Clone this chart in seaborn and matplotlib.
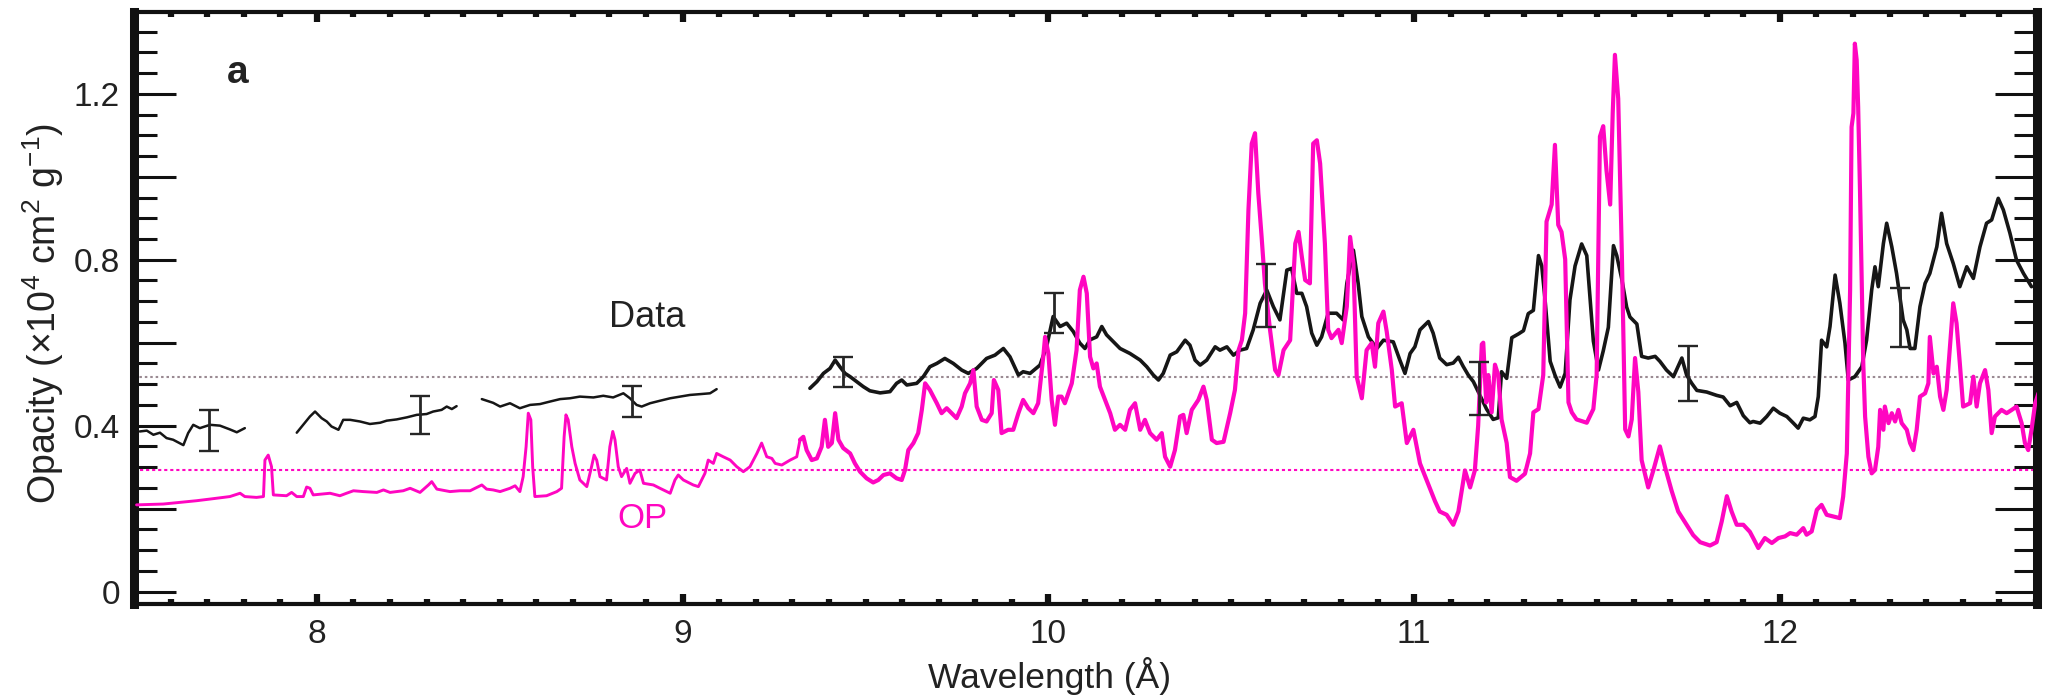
import matplotlib
matplotlib.use("Agg")
import matplotlib.pyplot as plt
import seaborn as sns
import pandas as pd
from matplotlib.ticker import MultipleLocator, FuncFormatter

# ---------------- data ----------------
# Measured opacity ("Data"), drawn in four separate pieces
DATA_SEG1_WL = [7.516, 7.535, 7.553, 7.571, 7.589, 7.607, 7.635, 7.648, 7.662, 7.680,
                7.708, 7.735, 7.762, 7.781, 7.803]
DATA_SEG1_OP = [0.386, 0.388, 0.378, 0.383, 0.370, 0.366, 0.353, 0.382, 0.402, 0.394,
                0.402, 0.400, 0.391, 0.384, 0.394]

DATA_SEG2_WL = [7.945, 7.981, 7.995, 8.013, 8.027, 8.040, 8.059, 8.072, 8.091, 8.118,
                8.145, 8.173, 8.191, 8.218, 8.246, 8.273, 8.300, 8.318, 8.341, 8.355,
                8.369, 8.382]
DATA_SEG2_OP = [0.383, 0.422, 0.434, 0.418, 0.410, 0.398, 0.390, 0.414, 0.414, 0.410,
                0.404, 0.407, 0.412, 0.415, 0.420, 0.426, 0.428, 0.434, 0.438, 0.446,
                0.440, 0.447]

DATA_SEG3_WL = [8.451, 8.482, 8.501, 8.528, 8.555, 8.583, 8.610, 8.637, 8.665, 8.692,
                8.719, 8.756, 8.783, 8.810, 8.838, 8.856, 8.874, 8.888, 8.911, 8.938,
                8.966, 8.993, 9.020, 9.048, 9.075, 9.093]
DATA_SEG3_OP = [0.464, 0.455, 0.446, 0.454, 0.442, 0.450, 0.452, 0.458, 0.464, 0.466,
                0.470, 0.468, 0.472, 0.468, 0.478, 0.466, 0.450, 0.446, 0.454, 0.460,
                0.466, 0.470, 0.474, 0.476, 0.478, 0.488]

DATA_SEG4_WL = [9.348, 9.367, 9.385, 9.403, 9.417, 9.430, 9.444, 9.458, 9.476, 9.494,
                9.512, 9.540, 9.567, 9.585, 9.599, 9.613, 9.640, 9.658, 9.676, 9.695,
                9.717, 9.740, 9.763, 9.781, 9.804, 9.831, 9.854, 9.877, 9.895, 9.918,
                9.931, 9.950, 9.977, 9.995, 10.013, 10.032, 10.050, 10.068, 10.086, 10.100,
                10.114, 10.132, 10.146, 10.159, 10.178, 10.196,
                10.223, 10.251, 10.269, 10.287, 10.301, 10.314, 10.333, 10.351, 10.374, 10.387,
                10.401, 10.415, 10.433, 10.456, 10.469, 10.488, 10.506, 10.524, 10.542, 10.560,
                10.579, 10.597, 10.615, 10.633, 10.652, 10.665, 10.679, 10.693, 10.706, 10.720,
                10.734, 10.747, 10.765, 10.788, 10.806, 10.816, 10.834, 10.847, 10.857, 10.875,
                10.898, 10.916, 10.943, 10.961, 10.975, 10.989, 11.002, 11.016, 11.039, 11.052,
                11.070, 11.089, 11.107, 11.121, 11.134, 11.148, 11.162, 11.180, 11.198, 11.216,
                11.230, 11.239, 11.253, 11.267, 11.285, 11.299, 11.312, 11.326, 11.340, 11.349,
                11.358, 11.372, 11.385, 11.399, 11.413, 11.426, 11.440, 11.458, 11.472, 11.490,
                11.504, 11.517, 11.531, 11.545, 11.554, 11.568, 11.581, 11.590, 11.609, 11.622,
                11.640, 11.659, 11.672, 11.690, 11.709, 11.732, 11.745, 11.759, 11.773, 11.800,
                11.827, 11.845, 11.864, 11.882, 11.900, 11.918,
                11.927, 11.946, 11.964, 11.982, 12.000, 12.019, 12.037, 12.050, 12.064, 12.082,
                12.096, 12.105, 12.114, 12.128, 12.137, 12.151, 12.164, 12.178, 12.187, 12.205,
                12.224, 12.237, 12.251, 12.260, 12.269, 12.283, 12.292, 12.306, 12.319, 12.337,
                12.347, 12.356, 12.369, 12.383, 12.397, 12.410, 12.429, 12.442, 12.456, 12.474,
                12.492, 12.511, 12.529, 12.547, 12.565, 12.579, 12.597, 12.611, 12.629, 12.647,
                12.666, 12.688]
DATA_SEG4_OP = [0.490, 0.506, 0.526, 0.538, 0.558, 0.542, 0.526, 0.518, 0.506, 0.494,
                0.484, 0.479, 0.482, 0.502, 0.510, 0.498, 0.502, 0.518, 0.542, 0.550,
                0.562, 0.550, 0.534, 0.526, 0.538, 0.562, 0.570, 0.586, 0.566, 0.522,
                0.530, 0.526, 0.546, 0.590, 0.663, 0.639, 0.647, 0.627, 0.599, 0.586,
                0.607, 0.614, 0.639, 0.619, 0.602, 0.586,
                0.574, 0.558, 0.542, 0.522, 0.510, 0.526, 0.570, 0.578, 0.606, 0.594,
                0.558, 0.546, 0.558, 0.590, 0.582, 0.590, 0.570, 0.582, 0.586, 0.631,
                0.695, 0.727, 0.687, 0.655, 0.775, 0.779, 0.719, 0.719, 0.687, 0.623,
                0.594, 0.614, 0.671, 0.671, 0.655, 0.743, 0.823, 0.743, 0.663, 0.614,
                0.586, 0.606, 0.602, 0.558, 0.526, 0.574, 0.590, 0.631, 0.651, 0.623,
                0.563, 0.547, 0.551, 0.565, 0.543, 0.522, 0.506, 0.473, 0.440, 0.415,
                0.419, 0.530, 0.514, 0.612, 0.621, 0.629, 0.670, 0.678, 0.810, 0.785,
                0.703, 0.555, 0.522, 0.493, 0.526, 0.703, 0.785, 0.838, 0.810, 0.604,
                0.534, 0.580, 0.637, 0.834, 0.810, 0.752, 0.686, 0.662, 0.645, 0.567,
                0.563, 0.567, 0.555, 0.534, 0.518, 0.563, 0.522, 0.502, 0.485, 0.481,
                0.473, 0.469, 0.448, 0.456, 0.424, 0.407,
                0.410, 0.406, 0.422, 0.442, 0.430, 0.422, 0.406, 0.394, 0.418, 0.414,
                0.422, 0.470, 0.606, 0.590, 0.639, 0.763, 0.695, 0.599, 0.510, 0.518,
                0.542, 0.606, 0.727, 0.783, 0.735, 0.839, 0.888, 0.831, 0.767, 0.655,
                0.631, 0.586, 0.586, 0.687, 0.743, 0.767, 0.831, 0.912, 0.839, 0.791,
                0.735, 0.783, 0.755, 0.831, 0.888, 0.896, 0.948, 0.920, 0.864, 0.799,
                0.767, 0.735]

# Error bars on the measured data
ERR_WL = [7.705, 8.282, 8.861, 9.438, 10.015, 10.594, 11.178, 11.750, 12.328]
ERR_OP = [0.389, 0.425, 0.458, 0.529, 0.672, 0.714, 0.489, 0.526, 0.661]
ERR_SIZE = [0.049, 0.046, 0.038, 0.036, 0.048, 0.075, 0.064, 0.066, 0.071]

# OP model opacity
OP_WL = [7.507, 7.580, 7.671, 7.708, 7.744, 7.762, 7.790, 7.803, 7.835, 7.854,
         7.858, 7.867, 7.876, 7.881, 7.917, 7.931, 7.945, 7.963, 7.972, 7.981,
         7.990, 8.036, 8.063, 8.081, 8.100, 8.127, 8.164, 8.182, 8.200, 8.236,
         8.255, 8.282, 8.305, 8.314, 8.328, 8.364, 8.391, 8.419,
         8.428, 8.451, 8.464, 8.482, 8.501, 8.528, 8.542, 8.555, 8.564, 8.572,
         8.578, 8.585, 8.590, 8.596, 8.628, 8.656, 8.669, 8.676, 8.681, 8.687,
         8.697, 8.706, 8.719, 8.738, 8.751, 8.758, 8.765, 8.774, 8.792, 8.801,
         8.809, 8.815, 8.824, 8.833, 8.847, 8.856, 8.870, 8.883, 8.893, 8.920,
         8.938, 8.966, 8.979, 8.988, 9.002, 9.029, 9.043, 9.061, 9.070, 9.084,
         9.093, 9.111, 9.130, 9.148, 9.166, 9.184, 9.203, 9.216, 9.230, 9.244,
         9.253, 9.271, 9.294, 9.312, 9.321,
         9.330, 9.339, 9.353, 9.367, 9.380, 9.389, 9.398, 9.408, 9.417, 9.426,
         9.439, 9.458, 9.471, 9.485, 9.503, 9.521, 9.535, 9.549, 9.567, 9.585,
         9.599, 9.608, 9.617, 9.631, 9.644, 9.654, 9.663, 9.676, 9.695, 9.708,
         9.722, 9.740, 9.749, 9.763, 9.772, 9.786, 9.795, 9.804, 9.818, 9.831,
         9.845, 9.851, 9.863, 9.872, 9.890, 9.904, 9.918, 9.931, 9.945, 9.959,
         9.972, 9.986, 9.991, 10.000, 10.009, 10.018, 10.027, 10.036, 10.045, 10.064,
         10.077, 10.086, 10.096, 10.105, 10.114, 10.123, 10.132, 10.141, 10.155, 10.169,
         10.182, 10.196, 10.210, 10.223,
         10.237, 10.251, 10.264, 10.278, 10.296, 10.310, 10.319, 10.333, 10.346, 10.360,
         10.369, 10.378, 10.392, 10.410, 10.424, 10.433, 10.447, 10.460, 10.479, 10.497,
         10.510, 10.520, 10.529, 10.538, 10.547, 10.556, 10.565, 10.574, 10.583, 10.592,
         10.606, 10.620, 10.629, 10.643, 10.661, 10.675, 10.684, 10.693, 10.702, 10.715,
         10.724, 10.734, 10.743, 10.756, 10.765, 10.774, 10.793, 10.802, 10.816, 10.825,
         10.834, 10.843, 10.857, 10.870, 10.884, 10.893, 10.902, 10.916, 10.925, 10.939,
         10.948, 10.966, 10.980, 10.998, 11.016, 11.034,
         11.057, 11.070, 11.089, 11.107, 11.121, 11.130, 11.139, 11.153, 11.166, 11.175,
         11.185, 11.189, 11.197, 11.203, 11.212, 11.221, 11.230, 11.239, 11.253, 11.262,
         11.280, 11.303, 11.317, 11.326, 11.340, 11.353, 11.362, 11.376, 11.385, 11.394,
         11.403, 11.413, 11.422, 11.431, 11.444, 11.472, 11.490, 11.499, 11.508, 11.517,
         11.526, 11.536, 11.543, 11.549, 11.558, 11.568, 11.577, 11.586, 11.595, 11.604,
         11.613, 11.622, 11.640, 11.654, 11.672, 11.686, 11.704, 11.722, 11.745, 11.763,
         11.782, 11.809, 11.827, 11.841, 11.855, 11.868, 11.882, 11.900, 11.918,
         11.927, 11.941, 11.959, 11.978, 11.996, 12.014, 12.028, 12.046, 12.064, 12.073,
         12.087, 12.101, 12.114, 12.128, 12.146, 12.164, 12.173, 12.183, 12.192, 12.196,
         12.201, 12.205, 12.210, 12.214, 12.219, 12.224, 12.228, 12.233, 12.242, 12.251,
         12.260, 12.269, 12.274, 12.283, 12.287, 12.297, 12.306, 12.315, 12.324, 12.333,
         12.347, 12.356, 12.365, 12.374, 12.383, 12.397, 12.406, 12.410, 12.420, 12.429,
         12.438, 12.447, 12.456, 12.465, 12.474, 12.483, 12.492, 12.501, 12.520, 12.529,
         12.538, 12.547, 12.561, 12.570, 12.579, 12.588, 12.597, 12.606, 12.620, 12.634,
         12.647, 12.661, 12.670, 12.679, 12.688, 12.698, 12.707]
OP_OP = [0.209, 0.211, 0.219, 0.223, 0.227, 0.229, 0.237, 0.229, 0.227, 0.229,
         0.317, 0.329, 0.301, 0.233, 0.231, 0.239, 0.229, 0.229, 0.252, 0.249,
         0.233, 0.237, 0.231, 0.237, 0.243, 0.241, 0.239, 0.245, 0.239, 0.243,
         0.249, 0.239, 0.257, 0.265, 0.247, 0.241, 0.243, 0.243,
         0.247, 0.257, 0.247, 0.245, 0.241, 0.249, 0.255, 0.241, 0.277, 0.349,
         0.430, 0.414, 0.301, 0.229, 0.231, 0.241, 0.249, 0.373, 0.426, 0.414,
         0.349, 0.309, 0.269, 0.253, 0.301, 0.329, 0.317, 0.277, 0.269, 0.349,
         0.386, 0.366, 0.301, 0.277, 0.297, 0.261, 0.285, 0.293, 0.261, 0.257,
         0.249, 0.237, 0.269, 0.281, 0.269, 0.257, 0.253, 0.285, 0.317, 0.309,
         0.333, 0.325, 0.317, 0.301, 0.289, 0.301, 0.333, 0.358, 0.325, 0.321,
         0.309, 0.305, 0.317, 0.325, 0.366,
         0.373, 0.341, 0.317, 0.321, 0.349, 0.414, 0.349, 0.358, 0.430, 0.366,
         0.346, 0.333, 0.309, 0.289, 0.273, 0.263, 0.269, 0.281, 0.285, 0.273,
         0.269, 0.293, 0.341, 0.358, 0.382, 0.438, 0.502, 0.486, 0.454, 0.430,
         0.442, 0.426, 0.418, 0.446, 0.478, 0.502, 0.534, 0.446, 0.414, 0.410,
         0.430, 0.510, 0.486, 0.382, 0.390, 0.390, 0.430, 0.462, 0.442, 0.430,
         0.454, 0.566, 0.614, 0.574, 0.462, 0.402, 0.470, 0.470, 0.454, 0.502,
         0.582, 0.727, 0.759, 0.719, 0.566, 0.538, 0.550, 0.494, 0.462, 0.430,
         0.390, 0.402, 0.390, 0.438,
         0.454, 0.390, 0.414, 0.382, 0.366, 0.382, 0.325, 0.301, 0.341, 0.422,
         0.426, 0.382, 0.438, 0.462, 0.494, 0.462, 0.366, 0.358, 0.361, 0.430,
         0.486, 0.582, 0.606, 0.671, 0.920, 1.080, 1.105, 0.960, 0.855, 0.743,
         0.631, 0.534, 0.522, 0.582, 0.606, 0.839, 0.867, 0.807, 0.751, 0.743,
         1.080, 1.088, 1.032, 0.839, 0.631, 0.611, 0.631, 0.599, 0.687, 0.855,
         0.791, 0.518, 0.466, 0.582, 0.599, 0.542, 0.647, 0.675, 0.627, 0.534,
         0.446, 0.454, 0.358, 0.390, 0.309, 0.269,
         0.218, 0.193, 0.185, 0.161, 0.193, 0.243, 0.292, 0.251, 0.292, 0.399,
         0.596, 0.600, 0.456, 0.522, 0.432, 0.547, 0.522, 0.415, 0.358, 0.276,
         0.267, 0.284, 0.333, 0.432, 0.440, 0.522, 0.892, 0.933, 1.077, 0.884,
         0.867, 0.801, 0.456, 0.432, 0.415, 0.407, 0.440, 0.522, 1.097, 1.122,
         1.015, 0.933, 1.155, 1.294, 1.188, 0.810, 0.391, 0.374, 0.415, 0.563,
         0.481, 0.317, 0.251, 0.292, 0.350, 0.300, 0.243, 0.193, 0.161, 0.136,
         0.119, 0.111, 0.119, 0.169, 0.230, 0.193, 0.161, 0.161, 0.144,
         0.129, 0.105, 0.129, 0.117, 0.129, 0.133, 0.141, 0.137, 0.153, 0.137,
         0.145, 0.197, 0.209, 0.185, 0.181, 0.177, 0.229, 0.333, 0.727, 1.120,
         1.153, 1.321, 1.281, 1.169, 0.968, 0.735, 0.550, 0.422, 0.325, 0.285,
         0.293, 0.349, 0.438, 0.390, 0.446, 0.406, 0.430, 0.410, 0.438, 0.406,
         0.390, 0.358, 0.341, 0.390, 0.470, 0.478, 0.502, 0.614, 0.526, 0.542,
         0.470, 0.438, 0.486, 0.590, 0.695, 0.647, 0.550, 0.446, 0.454, 0.518,
         0.446, 0.502, 0.534, 0.486, 0.382, 0.422, 0.430, 0.438, 0.430, 0.438,
         0.446, 0.406, 0.358, 0.341, 0.390, 0.454, 0.478]

# Mean levels (dotted reference lines)
DATA_MEAN = 0.518
OP_MEAN = 0.292

# Text
X_LABEL = "Wavelength (Å)"
Y_LABEL = "Opacity (×10$^4$ cm$^2$ g$^{-1}$)"
PANEL = "a"
LABEL_DATA = "Data"
LABEL_OP = "OP"

# ---------------- styling ----------------
sns.set_theme(style="ticks")
plt.rcParams['font.family'] = ['Liberation Sans', 'DejaVu Sans']
plt.rcParams['mathtext.fontset'] = 'custom'
plt.rcParams['mathtext.rm'] = 'Liberation Sans'
plt.rcParams['mathtext.it'] = 'Liberation Sans:italic'
plt.rcParams['mathtext.bf'] = 'Liberation Sans:bold'

MAGENTA = '#ff06c1'
BLACK = '#161616'

fig = plt.figure(figsize=(20.53, 6.95), dpi=100)
ax = fig.add_axes([0.06527, 0.13094, 0.92694, 0.85223])

ax.axhline(DATA_MEAN, color='#9a8a92', lw=1.5, ls=(0, (1.2, 1.4)), zorder=1)
ax.axhline(OP_MEAN, color=MAGENTA, lw=1.5, ls=(0, (1.5, 1.4)), zorder=1)

segments = [(DATA_SEG1_WL, DATA_SEG1_OP, 1.8), (DATA_SEG2_WL, DATA_SEG2_OP, 1.8),
            (DATA_SEG3_WL, DATA_SEG3_OP, 1.8), (DATA_SEG4_WL, DATA_SEG4_OP, 2.6)]
for wl, op, lw in segments:
    df = pd.DataFrame({"wl": wl, "op": op})
    sns.lineplot(data=df, x="wl", y="op", ax=ax, color=BLACK, linewidth=lw,
                 estimator=None, sort=False, legend=False, zorder=3)

op_df = pd.DataFrame({"wl": OP_WL, "op": OP_OP})
early = op_df[op_df["wl"] <= 9.33]
late = op_df[op_df["wl"] >= 9.321]
sns.lineplot(data=early, x="wl", y="op", ax=ax, color=MAGENTA, linewidth=2.1,
             estimator=None, sort=False, legend=False, zorder=4)
sns.lineplot(data=late, x="wl", y="op", ax=ax, color=MAGENTA, linewidth=3.0,
             estimator=None, sort=False, legend=False, zorder=4)

ax.errorbar(ERR_WL, ERR_OP, yerr=ERR_SIZE, fmt='none', ecolor='#262626',
            elinewidth=2.0, capsize=7.5, capthick=1.7, zorder=5)

ax.set_xlim(7.5, 12.703)
ax.set_ylim(-0.03, 1.398)

ax.xaxis.set_major_locator(MultipleLocator(1))
ax.xaxis.set_minor_locator(MultipleLocator(0.1))
ax.yaxis.set_major_locator(MultipleLocator(0.2))
ax.yaxis.set_minor_locator(MultipleLocator(0.05))


def yfmt(v, pos):
    k = v / 0.4
    if abs(k - round(k)) > 1e-6:
        return ""
    if abs(v) < 1e-9:
        return "0"
    return f"{v:.1f}"


ax.yaxis.set_major_formatter(FuncFormatter(yfmt))
ax.xaxis.set_major_formatter(FuncFormatter(lambda v, p: f"{int(round(v))}"))

ax.tick_params(axis='x', which='major', direction='in', length=7, width=4.5,
               top=True, bottom=True, labelsize=24, pad=11, colors='#111111')
ax.tick_params(axis='x', which='minor', direction='in', length=3.5, width=4.5,
               top=True, bottom=True, colors='#111111')
ax.tick_params(axis='y', which='major', direction='in', length=30.5, width=2.2,
               left=True, right=True, labelsize=24, pad=10, colors='#111111')
ax.tick_params(axis='y', which='minor', direction='in', length=16.3, width=2.2,
               left=True, right=True, colors='#111111')
ax.tick_params(labelcolor='#222222')

for side in ['left', 'right']:
    ax.spines[side].set_linewidth(6.5)
    ax.spines[side].set_color('#111111')
for side in ['top', 'bottom']:
    ax.spines[side].set_linewidth(3)
    ax.spines[side].set_color('#111111')
for side in ['top', 'right']:
    ax.spines[side].set_visible(True)

ax.set_xlabel(X_LABEL, fontsize=25.5, color='#222222', va='center')
ax.xaxis.set_label_coords(0.481, -0.121)
ax.set_ylabel(Y_LABEL, fontsize=27, color='#222222', va='center', ha='center')
ax.yaxis.set_label_coords(-0.0476, 0.49)

ax.text(7.783, 1.225, PANEL, fontsize=28, fontweight='bold', ha='center',
        va='baseline', color='#222222')
ax.text(8.904, 0.639, LABEL_DATA, fontsize=26, ha='center', va='baseline',
        color='#222222')
ax.text(8.890, 0.153, LABEL_OP, fontsize=25, ha='center', va='baseline',
        color=MAGENTA)

fig.savefig("out.png", dpi=100)
